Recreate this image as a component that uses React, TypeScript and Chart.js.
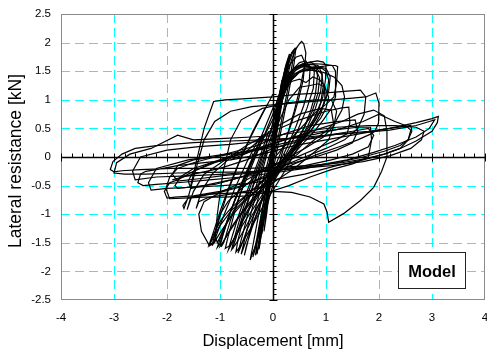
import { useEffect, useRef } from "react";
import { Chart, registerables } from "chart.js";

Chart.register(...registerables);

// ---- text & ticks ----
const xTickValues = [-4, -3, -2, -1, 0, 1, 2, 3, 4];
const yTickValues = [-2.5, -2, -1.5, -1, -0.5, 0, 0.5, 1, 1.5, 2, 2.5];
const xAxisTitle = "Displacement [mm]";
const yAxisTitle = "Lateral resistance [kN]";
const legendLabel = "Model";

// ---- hysteresis cycles (displacement mm, resistance kN) ----
// small, nearly elastic cycles
const a1X = [0, 0.06, 0.12, 0.17, 0.12, 0.03, -0.05, -0.12, -0.17, -0.11, -0.02];
const a1Y = [0, 0.55, 1.05, 1.35, 0.95, 0.25, -0.45, -1.0, -1.3, -0.8, -0.05];
const a2X = [-0.02, 0.08, 0.18, 0.27, 0.33, 0.28, 0.17, 0.05, -0.06, -0.15, -0.23, -0.27, -0.2, -0.09, 0.01];
const a2Y = [-0.05, 0.6, 1.15, 1.6, 1.8, 1.55, 0.95, 0.3, -0.35, -0.9, -1.4, -1.62, -1.2, -0.55, 0.1];
const a3X = [0.01, 0.12, 0.24, 0.35, 0.44, 0.5, 0.54, 0.58, 0.62, 0.6, 0.52, 0.4, 0.26, 0.12, -0.02, -0.14, -0.25, -0.33, -0.4, -0.43, -0.37, -0.26, -0.13, 0.0];
const a3Y = [0.1, 0.75, 1.3, 1.7, 1.9, 1.98, 2.02, 1.98, 1.82, 1.6, 1.25, 0.8, 0.35, -0.1, -0.55, -0.95, -1.3, -1.55, -1.72, -1.8, -1.5, -0.95, -0.35, 0.2];
const a4X = [0.0, 0.1, 0.2, 0.3, 0.38, 0.43, 0.4, 0.3, 0.16, 0.03, -0.08, -0.18, -0.27, -0.33, -0.28, -0.16, -0.05];
const a4Y = [0.2, 0.8, 1.3, 1.65, 1.85, 1.9, 1.65, 1.15, 0.5, -0.1, -0.65, -1.15, -1.55, -1.72, -1.35, -0.7, -0.05];
const a5X = [-0.05, 0.04, 0.14, 0.24, 0.31, 0.27, 0.16, 0.03, -0.08, -0.17, -0.23, -0.26, -0.19, -0.08];
const a5Y = [0.0, 0.55, 1.15, 1.6, 1.8, 1.5, 0.95, 0.25, -0.4, -0.95, -1.4, -1.6, -1.15, -0.45];
const a6X = [-0.08, 0.02, 0.12, 0.22, 0.29, 0.24, 0.12, 0.0, -0.1, -0.19, -0.26, -0.3, -0.25, -0.14, -0.03];
const a6Y = [-0.2, 0.45, 1.05, 1.5, 1.72, 1.45, 0.85, 0.2, -0.35, -0.9, -1.4, -1.7, -1.4, -0.8, -0.1];
const a7X = [0.0, 0.08, 0.17, 0.26, 0.35, 0.4, 0.36, 0.25, 0.12, 0.0, -0.1, -0.2, -0.28, -0.35, -0.38, -0.31, -0.2, -0.08];
const a7Y = [0.25, 0.75, 1.25, 1.6, 1.82, 1.88, 1.6, 1.05, 0.45, -0.1, -0.6, -1.05, -1.4, -1.66, -1.75, -1.45, -0.9, -0.3];
const a8X = [-0.03, 0.06, 0.15, 0.23, 0.27, 0.22, 0.12, 0.01, -0.09, -0.16, -0.21, -0.16, -0.07];
const a8Y = [0.1, 0.7, 1.25, 1.55, 1.65, 1.35, 0.8, 0.15, -0.45, -0.95, -1.35, -1.05, -0.4];

// medium cycles with ~1.6 kN plateau
const b1X = [0.0, 0.14, 0.28, 0.42, 0.56, 0.7, 0.84, 0.95, 1.0, 0.99, 0.94, 0.85, 0.72, 0.56, 0.4, 0.22, 0.02, -0.18, -0.36, -0.52, -0.63, -0.7, -0.66, -0.54, -0.38, -0.2, -0.03];
const b1Y = [0.2, 0.9, 1.35, 1.57, 1.63, 1.66, 1.68, 1.66, 1.6, 1.35, 1.05, 0.8, 0.55, 0.3, 0.05, -0.25, -0.55, -0.85, -1.15, -1.4, -1.58, -1.66, -1.45, -1.0, -0.5, 0.0, 0.5];
const b2X = [-0.03, 0.12, 0.28, 0.45, 0.62, 0.8, 0.98, 1.12, 1.18, 1.18, 1.1, 0.95, 0.78, 0.58, 0.36, 0.12, -0.12, -0.36, -0.58, -0.78, -0.92, -0.98, -0.93, -0.8, -0.62, -0.42, -0.2, 0.0];
const b2Y = [0.5, 1.05, 1.42, 1.58, 1.62, 1.63, 1.62, 1.6, 1.5, 1.05, 0.85, 0.65, 0.45, 0.25, 0.02, -0.22, -0.45, -0.7, -0.95, -1.22, -1.45, -1.57, -1.5, -1.1, -0.65, -0.2, 0.3, 0.75];
const b3X = [0.0, 0.15, 0.3, 0.48, 0.66, 0.82, 0.92, 0.95, 0.9, 0.78, 0.6, 0.4, 0.18, -0.05, -0.3, -0.55, -0.78, -0.98, -1.12, -1.2, -1.14, -1.02, -0.85, -0.64, -0.42, -0.2, 0.0];
const b3Y = [0.75, 1.2, 1.47, 1.57, 1.58, 1.55, 1.45, 1.25, 0.95, 0.68, 0.42, 0.18, -0.05, -0.3, -0.52, -0.7, -0.88, -1.1, -1.35, -1.55, -1.5, -1.1, -0.6, -0.1, 0.35, 0.75, 1.1];
const b4X = [0.05, 0.2, 0.38, 0.55, 0.7, 0.82, 0.88, 0.85, 0.74, 0.58, 0.4, 0.2, 0.0, -0.22, -0.44, -0.62, -0.76, -0.84, -0.8, -0.66, -0.47, -0.27, -0.08];
const b4Y = [0.9, 1.3, 1.52, 1.6, 1.58, 1.5, 1.38, 1.12, 0.8, 0.5, 0.22, -0.05, -0.32, -0.6, -0.9, -1.2, -1.48, -1.62, -1.48, -1.05, -0.55, -0.05, 0.45];
const b5X = [-0.05, 0.1, 0.25, 0.4, 0.55, 0.68, 0.78, 0.76, 0.64, 0.48, 0.3, 0.1, -0.1, -0.3, -0.48, -0.6, -0.66, -0.6, -0.47, -0.3, -0.12];
const b5Y = [0.4, 0.95, 1.35, 1.55, 1.62, 1.6, 1.5, 1.2, 0.85, 0.5, 0.15, -0.2, -0.55, -0.9, -1.25, -1.55, -1.68, -1.45, -0.98, -0.45, 0.1];
const b6X = [0.1, 0.3, 0.5, 0.72, 0.95, 1.15, 1.3, 1.35, 1.3, 1.18, 1.0, 0.78, 0.55, 0.3, 0.05, -0.22, -0.5, -0.75, -0.95, -1.05, -1.0, -0.86, -0.66, -0.43, -0.18];
const b6Y = [0.85, 1.3, 1.5, 1.52, 1.48, 1.4, 1.25, 1.05, 0.82, 0.62, 0.45, 0.3, 0.12, -0.08, -0.3, -0.52, -0.72, -0.95, -1.3, -1.58, -1.52, -1.1, -0.6, -0.1, 0.4];
const b7X = [0.0, 0.18, 0.35, 0.5, 0.62, 0.75, 0.88, 0.97, 0.98, 0.9, 0.75, 0.56, 0.35, 0.12, -0.12, -0.35, -0.55, -0.7, -0.76, -0.7, -0.55, -0.35, -0.15, 0.02];
const b7Y = [0.6, 1.1, 1.32, 1.36, 1.3, 1.4, 1.35, 1.25, 1.0, 0.75, 0.5, 0.3, 0.08, -0.15, -0.42, -0.72, -1.05, -1.4, -1.6, -1.42, -0.95, -0.45, 0.05, 0.5];
const b8X = [0.1, 0.3, 0.5, 0.7, 0.9, 1.05, 1.18, 1.22, 1.2, 1.15, 1.0, 0.8, 0.6, 0.4, 0.15, -0.1, -0.4, -0.65, -0.85, -1.0, -1.1, -1.05, -0.9, -0.7, -0.45, -0.2, 0.05];
const b8Y = [1.0, 1.3, 1.48, 1.55, 1.58, 1.6, 1.6, 1.58, 1.3, 1.05, 0.92, 0.78, 0.58, 0.38, 0.12, -0.15, -0.4, -0.6, -0.78, -1.0, -1.35, -1.5, -1.2, -0.7, -0.2, 0.3, 0.75];
const b9X = [0.0, 0.12, 0.26, 0.4, 0.55, 0.7, 0.85, 0.93, 0.9, 0.8, 0.66, 0.5, 0.32, 0.12, -0.1, -0.3, -0.5, -0.68, -0.82, -0.9, -0.85, -0.72, -0.55, -0.36, -0.16, 0.02];
const b9Y = [0.3, 0.85, 1.3, 1.5, 1.58, 1.62, 1.6, 1.45, 1.15, 0.85, 0.55, 0.28, 0.02, -0.25, -0.52, -0.8, -1.08, -1.35, -1.55, -1.6, -1.4, -0.95, -0.45, 0.05, 0.5, 0.9];
const b10X = [0.05, 0.18, 0.32, 0.46, 0.6, 0.72, 0.8, 0.84, 0.8, 0.7, 0.56, 0.4, 0.22, 0.03, -0.17, -0.37, -0.55, -0.7, -0.78, -0.74, -0.6, -0.42, -0.22, -0.04];
const b10Y = [0.5, 1.0, 1.38, 1.56, 1.64, 1.66, 1.6, 1.42, 1.1, 0.78, 0.45, 0.15, -0.12, -0.4, -0.68, -0.98, -1.28, -1.52, -1.62, -1.45, -1.0, -0.5, 0.0, 0.45];
const b11X = [0.0, 0.2, 0.4, 0.6, 0.8, 1.0, 1.08, 1.05, 0.95, 0.8, 0.62, 0.42, 0.2, -0.05, -0.3, -0.55, -0.8, -1.0, -1.15, -1.2, -1.12, -0.98, -0.8, -0.6, -0.38, -0.15];
const b11Y = [0.7, 1.2, 1.45, 1.55, 1.58, 1.55, 1.4, 1.15, 0.9, 0.65, 0.4, 0.18, -0.05, -0.28, -0.5, -0.72, -0.95, -1.2, -1.45, -1.52, -1.3, -0.9, -0.45, 0.0, 0.45, 0.85];
const b12X = [-0.05, 0.08, 0.22, 0.36, 0.5, 0.62, 0.7, 0.68, 0.58, 0.44, 0.28, 0.1, -0.08, -0.26, -0.42, -0.54, -0.6, -0.55, -0.42, -0.26, -0.1];
const b12Y = [0.2, 0.8, 1.25, 1.52, 1.65, 1.68, 1.55, 1.25, 0.9, 0.55, 0.2, -0.15, -0.5, -0.88, -1.25, -1.55, -1.7, -1.5, -1.0, -0.45, 0.1];
const b13X = [0.1, 0.25, 0.42, 0.6, 0.78, 0.92, 1.0, 1.05, 1.02, 0.92, 0.78, 0.62, 0.45, 0.26, 0.05, -0.18, -0.42, -0.64, -0.82, -0.95, -1.0, -0.94, -0.8, -0.6, -0.38, -0.14];
const b13Y = [0.9, 1.25, 1.45, 1.52, 1.55, 1.55, 1.5, 1.35, 1.1, 0.85, 0.62, 0.4, 0.18, -0.05, -0.3, -0.55, -0.8, -1.05, -1.3, -1.5, -1.56, -1.35, -0.95, -0.5, -0.05, 0.4];
const b14X = [0.0, 0.1, 0.2, 0.32, 0.44, 0.54, 0.6, 0.57, 0.48, 0.36, 0.22, 0.06, -0.1, -0.26, -0.4, -0.5, -0.54, -0.48, -0.36, -0.2, -0.06];
const b14Y = [0.35, 0.9, 1.35, 1.62, 1.75, 1.78, 1.65, 1.35, 1.0, 0.62, 0.25, -0.12, -0.5, -0.88, -1.25, -1.55, -1.72, -1.5, -1.0, -0.45, 0.05];
const b15X = [0.1, 0.3, 0.5, 0.7, 0.85, 0.98, 1.05, 1.0, 0.9, 0.78, 0.64, 0.48, 0.3, 0.1, -0.12, -0.35, -0.58, -0.8, -0.98, -1.1, -1.15, -1.08, -0.92, -0.72, -0.5, -0.25];
const b15Y = [0.6, 1.0, 1.22, 1.25, 1.28, 1.22, 1.05, 0.85, 0.68, 0.55, 0.38, 0.2, 0.0, -0.2, -0.42, -0.62, -0.82, -1.05, -1.3, -1.48, -1.55, -1.4, -1.0, -0.55, -0.1, 0.35];

// larger cycles around 1 kN
const c1X = [-1.56, -1.45, -1.3, -1.12, -0.9, -0.5, 0.0, 0.5, 1.0, 1.4, 1.65, 1.75, 1.72, 1.6, 1.35, 1.0, 0.6, 0.2, -0.2, -0.6, -1.0, -1.35, -1.6, -1.7, -1.68, -1.6];
const c1Y = [-0.53, -0.1, 0.5, 0.97, 1.0, 1.02, 1.05, 1.1, 1.12, 1.15, 1.17, 1.05, 0.75, 0.5, 0.3, 0.15, 0.0, -0.15, -0.35, -0.52, -0.62, -0.68, -0.72, -0.85, -0.9, -0.7];
const c2X = [-1.6, -1.45, -1.3, -1.1, -0.8, -0.4, 0.1, 0.6, 1.1, 1.5, 1.75, 1.94, 2.0, 1.99, 1.92, 1.84, 1.6, 1.25, 0.85, 0.4, 0.0, -0.5, -1.0, -1.5, -1.85, -2.0, -2.05, -1.95, -1.8];
const c2Y = [-0.7, -0.2, 0.3, 0.62, 0.8, 0.88, 0.92, 0.96, 1.0, 1.03, 1.05, 1.12, 0.94, 0.59, 0.45, 0.4, 0.3, 0.18, 0.05, -0.12, -0.3, -0.48, -0.6, -0.68, -0.7, -0.72, -0.6, -0.45, -0.4];
const c3X = [-1.8, -1.5, -1.1, -0.6, -0.1, 0.4, 0.9, 1.3, 1.6, 1.9, 2.1, 2.15, 2.15, 2.05, 1.9, 1.65, 1.33, 1.05, 1.02, 0.96, 0.7, 0.35, 0.0, -0.4, -0.8, -1.2, -1.55, -1.62, -1.5, -1.3];
const c3Y = [-0.4, -0.25, -0.1, 0.05, 0.2, 0.35, 0.5, 0.62, 0.75, 0.82, 0.72, 0.45, 0.0, -0.25, -0.53, -0.76, -0.99, -1.14, -0.96, -0.82, -0.7, -0.62, -0.6, -0.62, -0.63, -0.65, -0.7, -0.92, -0.6, -0.3];
const c4X = [-1.3, -0.9, -0.5, 0.0, 0.5, 1.0, 1.3, 1.43, 1.45, 1.4, 1.2, 0.9, 0.5, 0.1, -0.3, -0.7, -1.1, -1.5, -1.8, -1.85, -1.75, -1.5, -1.1, -0.7, -0.3];
const c4Y = [-0.3, -0.05, 0.2, 0.45, 0.65, 0.8, 0.86, 0.87, 0.6, 0.41, 0.3, 0.18, 0.02, -0.12, -0.25, -0.38, -0.48, -0.52, -0.55, -0.5, -0.35, -0.2, -0.08, 0.05, 0.15];
const c5X = [-0.3, 0.2, 0.7, 1.2, 1.6, 1.84, 1.86, 1.8, 1.5, 1.1, 0.7, 0.3, -0.1, -0.5, -0.9, -1.3, -1.7, -1.95, -2.02, -1.95, -1.8, -1.5, -1.1, -0.7, -0.3];
const c5Y = [0.15, 0.3, 0.42, 0.48, 0.52, 0.52, 0.3, 0.0, -0.12, -0.22, -0.35, -0.5, -0.62, -0.68, -0.7, -0.7, -0.72, -0.73, -0.55, -0.35, -0.2, -0.1, 0.0, 0.1, 0.2];
const c6X = [-0.3, 0.2, 0.7, 1.2, 1.55, 1.6, 1.5, 1.2, 0.8, 0.4, 0.0, -0.4, -0.8, -1.2, -1.55, -1.6, -1.5, -1.2, -0.8, -0.4, 0.0];
const c6Y = [0.2, 0.4, 0.55, 0.62, 0.65, 0.45, 0.25, 0.12, 0.0, -0.1, -0.2, -0.3, -0.4, -0.48, -0.55, -0.42, -0.25, -0.12, 0.0, 0.1, 0.2];
const c7X = [-0.5, 0.0, 0.5, 0.9, 1.1, 1.15, 1.05, 0.8, 0.4, 0.0, -0.4, -0.8, -1.2, -1.4, -1.45, -1.35, -1.15, -0.85, -0.5];
const c7Y = [0.1, 0.5, 0.75, 0.85, 0.82, 0.55, 0.3, 0.1, -0.2, -0.45, -0.58, -0.65, -0.7, -0.78, -0.9, -0.6, -0.3, -0.05, 0.15];
const c8X = [-0.8, -0.4, 0.0, 0.5, 1.0, 1.5, 1.8, 1.9, 1.8, 1.5, 1.1, 0.6, 0.1, -0.4, -0.9, -1.4, -1.8, -1.9, -1.8, -1.5, -1.1, -0.8];
const c8Y = [-0.05, 0.1, 0.2, 0.3, 0.38, 0.45, 0.5, 0.38, 0.18, 0.05, -0.05, -0.15, -0.22, -0.28, -0.32, -0.38, -0.42, -0.3, -0.15, -0.05, 0.0, 0.05];
const c9X = [-1.1, -1.05, -0.95, -0.8, -0.6, -0.2, 0.3, 0.8, 1.1, 1.2, 1.15, 0.95, 0.6, 0.2, -0.2, -0.6, -1.0, -1.3, -1.4, -1.35, -1.2, -1.1];
const c9Y = [-1.5, -1.0, -0.3, 0.3, 0.65, 0.85, 0.95, 1.0, 1.0, 0.8, 0.55, 0.35, 0.15, -0.05, -0.25, -0.45, -0.62, -0.78, -1.0, -1.3, -1.55, -1.5];

// largest cycles
const d1X = [-1.9, -1.5, -1.0, -0.5, 0.0, 0.6, 1.2, 1.8, 2.2, 2.45, 2.6, 2.62, 2.55, 2.4, 2.1, 1.7, 1.2, 0.6, 0.0, -0.6, -1.2, -1.8, -2.2, -2.45, -2.55, -2.5, -2.4, -2.2];
const d1Y = [-0.4, -0.3, -0.2, -0.05, 0.15, 0.3, 0.4, 0.45, 0.5, 0.53, 0.55, 0.45, 0.3, 0.2, 0.1, 0.0, -0.1, -0.2, -0.28, -0.35, -0.4, -0.45, -0.48, -0.5, -0.45, -0.3, -0.25, -0.22];
const d2X = [-2.2, -1.8, -1.3, -0.8, -0.2, 0.4, 1.0, 1.6, 2.2, 2.7, 3.0, 3.12, 3.1, 3.0, 2.7, 2.4, 2.1, 1.8, 1.3, 0.7, 0.1, -0.5, -1.2, -1.9, -2.5, -2.85, -3.0, -3.07, -3.02, -2.85, -2.6, -2.2, -1.5, -0.8, -0.2];
const d2Y = [-0.22, -0.15, -0.1, -0.05, 0.05, 0.2, 0.3, 0.4, 0.5, 0.6, 0.67, 0.71, 0.6, 0.45, 0.28, 0.15, 0.05, -0.02, -0.1, -0.15, -0.18, -0.2, -0.2, -0.2, -0.22, -0.24, -0.26, -0.22, -0.08, 0.05, 0.15, 0.2, 0.25, 0.28, 0.3];
const d3X = [-0.2, 0.4, 1.0, 1.6, 2.2, 2.7, 2.95, 3.05, 2.95, 2.7, 2.3, 1.9, 1.4, 0.8, 0.2, -0.5, -1.2, -1.8, -2.4, -2.8, -3.0, -2.95, -2.7, -2.3, -1.8, -1.5, -1.0, -0.4, 0.1];
const d3Y = [0.3, 0.33, 0.38, 0.42, 0.47, 0.55, 0.62, 0.65, 0.5, 0.35, 0.2, 0.08, -0.05, -0.15, -0.22, -0.26, -0.27, -0.28, -0.3, -0.3, -0.28, -0.1, 0.05, 0.15, 0.38, 0.3, 0.32, 0.35, 0.38];
const d4X = [0.1, 0.6, 1.2, 1.8, 2.3, 2.7, 2.85, 2.8, 2.6, 2.2, 1.7, 1.1, 0.5, -0.2, -0.9, -1.6, -2.2, -2.6, -2.65, -2.5, -2.0, -1.4, -0.8, -0.2, 0.3];
const d4Y = [0.38, 0.45, 0.52, 0.55, 0.55, 0.52, 0.45, 0.3, 0.15, 0.02, -0.08, -0.15, -0.2, -0.25, -0.3, -0.33, -0.35, -0.4, -0.25, 0.0, 0.12, 0.18, 0.22, 0.28, 0.32];
const d5X = [0.3, 0.8, 1.3, 1.7, 2.0, 2.3, 2.5, 2.6, 2.55, 2.4, 2.1, 1.7, 1.2, 0.6, 0.0, -0.6, -1.3, -2.0, -2.3, -2.35, -2.2, -1.6, -0.9, -0.3, 0.2];
const d5Y = [0.32, 0.4, 0.5, 0.62, 0.75, 0.62, 0.55, 0.47, 0.3, 0.15, 0.05, -0.05, -0.15, -0.3, -0.4, -0.48, -0.52, -0.55, -0.58, -0.45, -0.2, -0.05, 0.05, 0.12, 0.2];

const cycles: [number[], number[]][] = [
  [a1X, a1Y], [a2X, a2Y], [a3X, a3Y], [a4X, a4Y], [a5X, a5Y], [a6X, a6Y], [a7X, a7Y], [a8X, a8Y],
  [b1X, b1Y], [b2X, b2Y], [b3X, b3Y], [b4X, b4Y], [b5X, b5Y], [b6X, b6Y], [b7X, b7Y], [b8X, b8Y],
  [b9X, b9Y], [b10X, b10Y], [b11X, b11Y], [b12X, b12Y], [b13X, b13Y], [b14X, b14Y], [b15X, b15Y],
  [c1X, c1Y], [c2X, c2Y], [c3X, c3Y], [c4X, c4Y], [c5X, c5Y], [c6X, c6Y], [c7X, c7Y], [c8X, c8Y], [c9X, c9Y],
  [d1X, d1Y], [d2X, d2Y], [d3X, d3Y], [d4X, d4Y], [d5X, d5Y],
];

const FONT = "'Liberation Sans', Arial, Helvetica, sans-serif";

const decorPlugin = {
  id: "decor",
  beforeDatasetsDraw(chart: any) {
    const { ctx, chartArea: a, scales } = chart;
    const xs = scales.x;
    const ys = scales.y;
    const line = (x1: number, y1: number, x2: number, y2: number) => {
      ctx.beginPath();
      ctx.moveTo(x1, y1);
      ctx.lineTo(x2, y2);
      ctx.stroke();
    };
    ctx.save();
    ctx.strokeStyle = "#00ffff";
    ctx.lineWidth = 1;
    ctx.setLineDash([9, 5]);
    for (const v of xTickValues) {
      if (v === xTickValues[0] || v === xTickValues[xTickValues.length - 1] || v === 0) continue;
      const px = Math.round(xs.getPixelForValue(v)) + 0.5;
      line(px, a.top, px, a.bottom);
    }
    for (const v of yTickValues) {
      if (v === yTickValues[0] || v === yTickValues[yTickValues.length - 1] || v === 0) continue;
      const py = Math.round(ys.getPixelForValue(v)) + 0.5;
      line(a.left, py, a.right, py);
    }
    ctx.setLineDash([]);
    ctx.strokeStyle = "#8a8a8a";
    ctx.strokeRect(Math.round(a.left) + 0.5, Math.round(a.top) + 0.5, Math.round(a.right - a.left) - 1, Math.round(a.bottom - a.top) - 1);
    ctx.strokeStyle = "#000";
    ctx.lineWidth = 1.5;
    const x0 = Math.round(xs.getPixelForValue(0)) + 0.5;
    const y0 = Math.round(ys.getPixelForValue(0)) + 0.5;
    line(a.left, y0, a.right, y0);
    line(x0, a.top, x0, a.bottom);
    ctx.lineWidth = 1;
    for (let i = -20; i <= 20; i++) {
      const px = Math.round(xs.getPixelForValue(i * 0.2)) + 0.5;
      if (i % 5 === 0) line(px, y0 - 4, px, y0 + 4);
      else line(px, y0 - 4, px, y0);
    }
    for (let i = -25; i <= 25; i++) {
      const py = Math.round(ys.getPixelForValue(i * 0.1)) + 0.5;
      if (i % 5 === 0) line(x0 - 4, py, x0 + 4, py);
      else line(x0, py, x0 + 3, py);
    }
    ctx.restore();
  },
  afterDraw(chart: any) {
    const { ctx, chartArea: a } = chart;
    ctx.save();
    ctx.fillStyle = "#fff";
    ctx.fillRect(398, 252, 68, 37);
    ctx.strokeStyle = "#222";
    ctx.lineWidth = 1;
    ctx.strokeRect(398.5, 252.5, 67, 36);
    ctx.fillStyle = "#000";
    ctx.font = `bold 16.5px ${FONT}`;
    ctx.textAlign = "center";
    ctx.textBaseline = "middle";
    ctx.fillText(legendLabel, 432, 272);
    ctx.font = `16.5px ${FONT}`;
    ctx.fillText(xAxisTitle, (a.left + a.right) / 2, 341);
    ctx.translate(16, 161);
    ctx.rotate(-Math.PI / 2);
    ctx.font = `17.5px ${FONT}`;
    ctx.fillText(yAxisTitle, 0, 0);
    ctx.restore();
  },
};

export default function App() {
  const canvasRef = useRef<HTMLCanvasElement | null>(null);

  useEffect(() => {
    document.body.style.margin = "0";
    const canvas = canvasRef.current;
    if (!canvas) return;
    const datasets = cycles.map(([xs, ys], i) => ({
      label: `cycle ${i + 1}`,
      data: xs.map((x, j) => ({ x, y: ys[j] })),
      showLine: true,
      borderColor: "#000",
      borderWidth: 1.2,
      pointRadius: 0,
      tension: 0,
      fill: false,
    }));
    const chart = new Chart(canvas, {
      type: "scatter",
      data: { datasets },
      options: {
        responsive: false,
        animation: false,
        devicePixelRatio: 1,
        layout: { padding: { top: 14, right: 2, left: 0, bottom: 0 } },
        plugins: { legend: { display: false }, tooltip: { enabled: false } },
        scales: {
          x: {
            type: "linear",
            min: -4,
            max: 4,
            afterBuildTicks: (s: any) => {
              s.ticks = xTickValues.map((v) => ({ value: v }));
            },
            ticks: {
              autoSkip: false,
              maxRotation: 0,
              padding: 11,
              color: "#000",
              font: { family: FONT, size: 11.5 },
              callback: (v: any) => String(v),
            },
            grid: { display: false, drawTicks: false },
            border: { display: false },
            afterFit: (s: any) => {
              s.height = 56;
              s.paddingLeft = 0;
              s.paddingRight = 0;
            },
          },
          y: {
            type: "linear",
            min: -2.5,
            max: 2.5,
            afterBuildTicks: (s: any) => {
              s.ticks = yTickValues.map((v) => ({ value: v }));
            },
            ticks: {
              autoSkip: false,
              padding: 10,
              color: "#000",
              font: { family: FONT, size: 11.5 },
              callback: (v: any) => String(v),
            },
            grid: { display: false, drawTicks: false },
            border: { display: false },
            afterFit: (s: any) => {
              s.width = 61;
              s.paddingTop = 0;
              s.paddingBottom = 0;
            },
          },
        },
      },
      plugins: [decorPlugin],
    });
    return () => chart.destroy();
  }, []);

  return (
    <div style={{ position: "absolute", left: 0, top: 0, width: 487, height: 356 }}>
      <canvas ref={canvasRef} width={487} height={356} style={{ display: "block" }} />
    </div>
  );
}
